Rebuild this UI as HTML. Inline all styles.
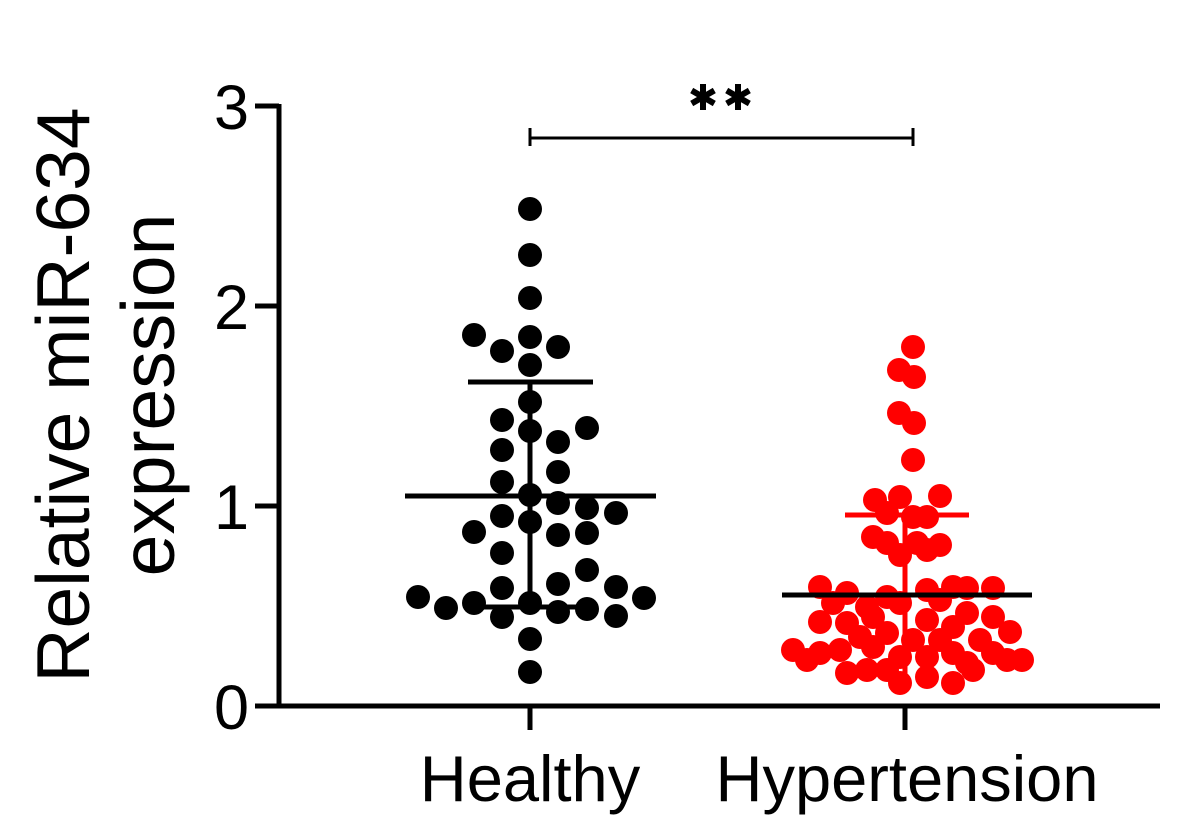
<!DOCTYPE html>
<html><head><meta charset="utf-8"><style>body{margin:0;background:#fff}svg{display:block}</style></head>
<body>
<svg width="1192" height="834" viewBox="0 0 1192 834" xmlns="http://www.w3.org/2000/svg" font-family="Liberation Sans, Arial, sans-serif">
<g stroke="#000" stroke-width="5" fill="none">
<line x1="279" y1="104" x2="279" y2="708"/>
<line x1="277" y1="706" x2="1160" y2="706"/>
<line x1="255" y1="106" x2="279" y2="106"/>
<line x1="255" y1="306" x2="279" y2="306"/>
<line x1="255" y1="506" x2="279" y2="506"/>
<line x1="255" y1="706" x2="279" y2="706"/>
<line x1="530" y1="706" x2="530" y2="730"/>
<line x1="905" y1="706" x2="905" y2="730"/>
</g>
<g font-size="63" text-anchor="end" fill="#000">
<text x="249" y="129">3</text><text x="249" y="329">2</text><text x="249" y="529">1</text><text x="249" y="729">0</text>
</g>
<g font-size="65" text-anchor="middle" fill="#000">
<text x="530" y="801">Healthy</text><text x="907" y="801">Hypertension</text>
</g>
<g font-size="75" text-anchor="middle" fill="#000">
<text transform="translate(89,395) rotate(-90)">Relative miR-634</text>
<text transform="translate(174,395) rotate(-90)">expression</text>
</g>
<g stroke="#000" stroke-width="3">
<line x1="530" y1="138" x2="913" y2="138"/>
<line x1="530" y1="128" x2="530" y2="146"/>
<line x1="913" y1="128" x2="913" y2="146"/>
</g>
<g stroke="#000" stroke-width="6">
<path d="M703 84V110M691.7 90.5L714.3 103.5M691.7 103.5L714.3 90.5"/>
<path d="M738 84V110M726.7 90.5L749.3 103.5M726.7 103.5L749.3 90.5"/>
</g>
<g fill="#000">
<circle cx="530" cy="209" r="12"/><circle cx="530" cy="255" r="12"/><circle cx="530" cy="298" r="12"/>
<circle cx="474" cy="335" r="12"/><circle cx="502" cy="351" r="12"/><circle cx="530" cy="337" r="12"/>
<circle cx="558" cy="347" r="12"/><circle cx="530" cy="365" r="12"/><circle cx="530" cy="402" r="12"/>
<circle cx="502" cy="420" r="12"/><circle cx="530" cy="431" r="12"/><circle cx="587" cy="428" r="12"/>
<circle cx="558" cy="442" r="12"/><circle cx="502" cy="450" r="12"/><circle cx="558" cy="472" r="12"/>
<circle cx="502" cy="482" r="12"/><circle cx="530" cy="495" r="12"/><circle cx="558" cy="503" r="12"/>
<circle cx="587" cy="508" r="12"/><circle cx="616" cy="513" r="12"/><circle cx="502" cy="516" r="12"/>
<circle cx="530" cy="522" r="12"/><circle cx="474" cy="532" r="12"/><circle cx="558" cy="535" r="12"/>
<circle cx="587" cy="533" r="12"/><circle cx="502" cy="553" r="12"/><circle cx="587" cy="570" r="12"/>
<circle cx="502" cy="588" r="12"/><circle cx="558" cy="584" r="12"/><circle cx="616" cy="587" r="12"/>
<circle cx="418" cy="597" r="12"/><circle cx="644" cy="598" r="12"/><circle cx="446" cy="608" r="12"/>
<circle cx="474" cy="603" r="12"/><circle cx="530" cy="603" r="12"/><circle cx="502" cy="617" r="12"/>
<circle cx="558" cy="612" r="12"/><circle cx="587" cy="609" r="12"/><circle cx="616" cy="616" r="12"/>
<circle cx="530" cy="639" r="12"/><circle cx="530" cy="672" r="12"/>
</g>
<g stroke="#000" stroke-width="5">
<line x1="405" y1="496" x2="656" y2="496"/>
<line x1="468" y1="382" x2="593" y2="382"/>
<line x1="468" y1="607" x2="593" y2="607"/>
<line x1="530" y1="382" x2="530" y2="607"/>
</g>
<g fill="#f00">
<circle cx="913" cy="347" r="12"/><circle cx="899" cy="370" r="12"/><circle cx="914" cy="377" r="12"/>
<circle cx="899" cy="413" r="12"/><circle cx="914" cy="423" r="12"/><circle cx="913" cy="460" r="12"/>
<circle cx="875" cy="500" r="12"/><circle cx="900" cy="497" r="12"/><circle cx="940" cy="496" r="12"/>
<circle cx="887" cy="513" r="12"/><circle cx="913" cy="517" r="12"/><circle cx="927" cy="517" r="12"/>
<circle cx="873" cy="537" r="12"/><circle cx="887" cy="543" r="12"/><circle cx="940" cy="545" r="12"/>
<circle cx="900" cy="555" r="12"/><circle cx="917" cy="543" r="12"/><circle cx="927" cy="550" r="12"/>
<circle cx="820" cy="587" r="12"/><circle cx="847" cy="593" r="12"/><circle cx="887" cy="597" r="12"/>
<circle cx="927" cy="590" r="12"/><circle cx="953" cy="587" r="12"/><circle cx="967" cy="588" r="12"/>
<circle cx="993" cy="588" r="12"/>
<circle cx="833" cy="603" r="12"/><circle cx="867" cy="607" r="12"/><circle cx="900" cy="603" r="12"/><circle cx="940" cy="600" r="12"/>
<circle cx="820" cy="622" r="12"/><circle cx="847" cy="623" r="12"/><circle cx="873" cy="617" r="12"/><circle cx="927" cy="620" r="12"/>
<circle cx="967" cy="613" r="12"/><circle cx="993" cy="617" r="12"/><circle cx="1010" cy="632" r="12"/><circle cx="953" cy="627" r="12"/>
<circle cx="887" cy="633" r="12"/><circle cx="913" cy="640" r="12"/><circle cx="940" cy="640" r="12"/><circle cx="980" cy="640" r="12"/><circle cx="860" cy="637" r="12"/>
<circle cx="793" cy="650" r="12"/><circle cx="807" cy="660" r="12"/><circle cx="820" cy="653" r="12"/><circle cx="840" cy="650" r="12"/>
<circle cx="873" cy="647" r="12"/><circle cx="900" cy="657" r="12"/><circle cx="927" cy="657" r="12"/><circle cx="953" cy="653" r="12"/>
<circle cx="967" cy="663" r="12"/><circle cx="993" cy="653" r="12"/><circle cx="1007" cy="660" r="12"/><circle cx="1022" cy="660" r="12"/>
<circle cx="847" cy="673" r="12"/><circle cx="867" cy="670" r="12"/><circle cx="900" cy="683" r="12"/><circle cx="927" cy="677" r="12"/>
<circle cx="953" cy="683" r="12"/><circle cx="973" cy="670" r="12"/><circle cx="887" cy="670" r="12"/>
</g>
<g stroke="#f00" stroke-width="5">
<line x1="845" y1="515" x2="969" y2="515"/>
<line x1="905" y1="515" x2="905" y2="680"/>
</g>
<line x1="782" y1="595" x2="1032" y2="595" stroke="#000" stroke-width="5"/>
</svg>
</body></html>
